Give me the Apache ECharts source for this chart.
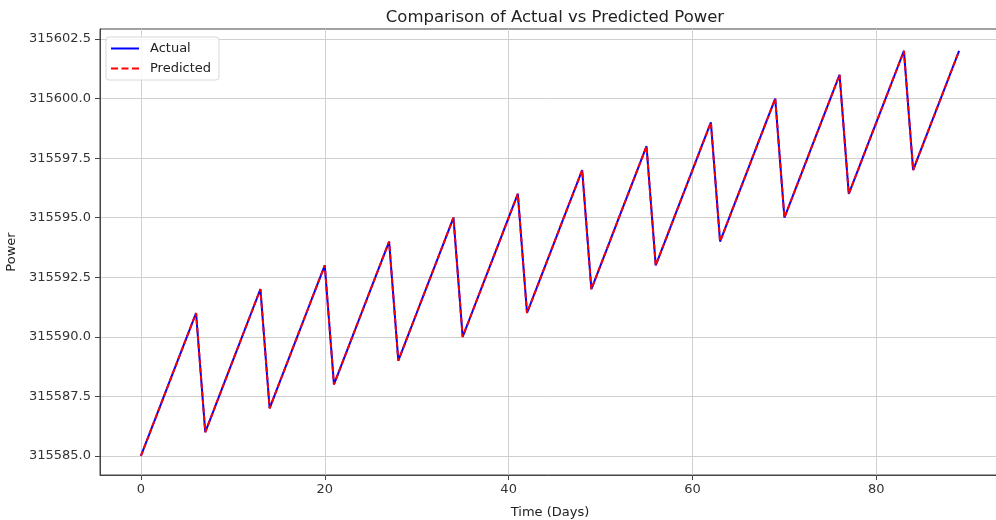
<!DOCTYPE html>
<html>
<head>
<meta charset="utf-8">
<script src="https://cdn.jsdelivr.net/npm/echarts@6/dist/echarts.min.js"></script>
<style>
  html, body { margin: 0; padding: 0; background: #fff; }
  #main { width: 996px; height: 520px; }
</style>
</head>
<body>
<div id="main"></div>
<script>
// daily power readings, day 0..89
const actual = [
  315585, 315586, 315587, 315588, 315589, 315590, 315591,
  315586, 315587, 315588, 315589, 315590, 315591, 315592,
  315587, 315588, 315589, 315590, 315591, 315592, 315593,
  315588, 315589, 315590, 315591, 315592, 315593, 315594,
  315589, 315590, 315591, 315592, 315593, 315594, 315595,
  315590, 315591, 315592, 315593, 315594, 315595, 315596,
  315591, 315592, 315593, 315594, 315595, 315596, 315597,
  315592, 315593, 315594, 315595, 315596, 315597, 315598,
  315593, 315594, 315595, 315596, 315597, 315598, 315599,
  315594, 315595, 315596, 315597, 315598, 315599, 315600,
  315595, 315596, 315597, 315598, 315599, 315600, 315601,
  315596, 315597, 315598, 315599, 315600, 315601, 315602,
  315597, 315598, 315599, 315600, 315601, 315602
];
const predicted = [
  315585, 315586, 315587, 315588, 315589, 315590, 315591,
  315586, 315587, 315588, 315589, 315590, 315591, 315592,
  315587, 315588, 315589, 315590, 315591, 315592, 315593,
  315588, 315589, 315590, 315591, 315592, 315593, 315594,
  315589, 315590, 315591, 315592, 315593, 315594, 315595,
  315590, 315591, 315592, 315593, 315594, 315595, 315596,
  315591, 315592, 315593, 315594, 315595, 315596, 315597,
  315592, 315593, 315594, 315595, 315596, 315597, 315598,
  315593, 315594, 315595, 315596, 315597, 315598, 315599,
  315594, 315595, 315596, 315597, 315598, 315599, 315600,
  315595, 315596, 315597, 315598, 315599, 315600, 315601,
  315596, 315597, 315598, 315599, 315600, 315601, 315602,
  315597, 315598, 315599, 315600, 315601, 315602
];
const xTicks = [0, 20, 40, 60, 80];
const yTicks = [315585, 315587.5, 315590, 315592.5, 315595, 315597.5, 315600, 315602.5];

const font = 'DejaVu Sans';
let chart = echarts.init(document.getElementById('main'));

const option = {
  animation: false,
  backgroundColor: '#fff',
  title: {
    text: 'Comparison of Actual vs Predicted Power',
    left: 550,
    textAlign: 'center',
    top: 4,
    textStyle: { fontFamily: font, fontSize: 16.5, fontWeight: 'normal', color: '#222' }
  },
  legend: {
    orient: 'vertical',
    left: 106,
    top: 37,
    padding: [5, 8, 5, 5],
    itemGap: 7,
    itemWidth: 28,
    itemHeight: 14,
    borderColor: '#d8d8d8',
    borderWidth: 1,
    borderRadius: 3,
    backgroundColor: 'rgba(255,255,255,0.85)',
    textStyle: { fontFamily: font, fontSize: 13, color: '#222', padding: [0, 0, 0, 6] },
    data: [
      { name: 'Actual', icon: 'path://M0,0h28v2h-28z', itemStyle: { color: '#0000ff' } },
      { name: 'Predicted', icon: 'path://M0,0h7v2h-7z M10.5,0h7v2h-7z M21,0h7v2h-7z', itemStyle: { color: '#ff0000' } }
    ]
  },
  grid: {
    left: 100,
    right: -4,
    top: 29,
    bottom: 45,
    outerBoundsMode: 'none',
    containLabel: false,
    show: true,
    borderColor: '#444',
    borderWidth: 1,
    backgroundColor: 'transparent'
  },
  xAxis: {
    type: 'value',
    min: -4.45,
    max: 93.45,
    name: 'Time (Days)',
    nameLocation: 'middle',
    nameGap: 31,
    nameTextStyle: { fontFamily: font, fontSize: 13, color: '#222' },
    axisLine: { show: true, onZero: false, lineStyle: { color: '#444', width: 1 } },
    axisTick: { show: true, length: 5, lineStyle: { color: '#444' }, customValues: xTicks },
    axisLabel: { fontFamily: font, fontSize: 13, color: '#333', margin: 8, customValues: xTicks },
    splitLine: { show: true, lineStyle: { color: '#d0d0d0', width: 1 } }
  },
  yAxis: {
    type: 'value',
    min: 315584.2,
    max: 315602.92,
    name: 'Power',
    nameLocation: 'middle',
    nameGap: 82,
    nameRotate: 90,
    nameTextStyle: { fontFamily: font, fontSize: 13, color: '#222' },
    axisLine: { show: true, onZero: false, lineStyle: { color: '#444', width: 1 } },
    axisTick: { show: true, length: 5, lineStyle: { color: '#444' }, customValues: yTicks },
    axisLabel: {
      fontFamily: font, fontSize: 13, color: '#333', margin: 9,
      customValues: yTicks,
      formatter: v => v.toFixed(1)
    },
    splitLine: { show: true, lineStyle: { color: '#d0d0d0', width: 1 } }
  },
  series: [
    {
      name: 'Actual',
      type: 'line',
      symbol: 'none',
      color: '#0000ff',
      lineStyle: { color: '#0000ff', width: 2 },
      data: actual.map((v, i) => [i, v])
    },
    {
      name: 'Predicted',
      type: 'line',
      symbol: 'none',
      color: '#ff0000',
      lineStyle: { color: '#ff0000', width: 2, type: [5, 3] },
      data: predicted.map((v, i) => [i, v])
    }
  ]
};

chart.setOption(option);
</script>
</body>
</html>
